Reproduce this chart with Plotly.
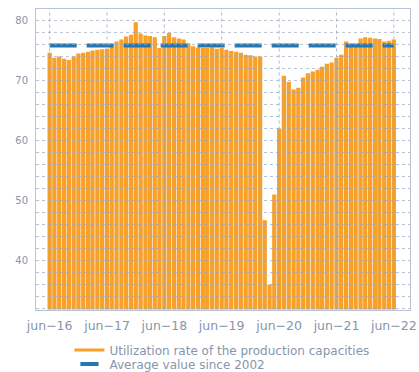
import plotly.graph_objects as go
import pandas as pd

# Monthly capacity utilization rate (%), June 2016 - June 2022
months = pd.date_range("2016-06-01", "2022-06-01", freq="MS")
utilization = [
    74.6, 73.8, 74.0, 73.6, 73.4, 74.0, 74.5, 74.6, 74.8, 75.0, 75.1, 75.2,  # jun-16 .. may-17
    75.3, 75.6, 76.5, 76.8, 77.3, 77.6, 79.7, 77.8, 77.5, 77.4, 77.2, 75.4,  # jun-17 .. may-18
    77.4, 77.9, 77.2, 77.0, 76.8, 76.2, 75.7, 75.5, 75.4, 75.4, 75.5, 75.3,  # jun-18 .. may-19
    75.4, 75.1, 74.9, 74.8, 74.6, 74.3, 74.2, 74.0, 74.0, 46.7, 36.0, 51.0,  # jun-19 .. may-20
    62.0, 70.8, 69.8, 68.5, 68.8, 70.5, 71.2, 71.5, 71.8, 72.3, 72.8, 73.0,  # jun-20 .. may-21
    73.8, 74.3, 76.5, 75.8, 75.8, 77.0, 77.2, 77.1, 77.0, 76.9, 76.5, 76.6,  # jun-21 .. may-22
    76.8,                                                                    # jun-22
]
average_since_2002 = 75.8
average_line = [average_since_2002] * len(months)

tick_dates = pd.date_range("2016-06-01", "2022-06-01", freq="12MS")
tick_labels = ["jun\u221216", "jun\u221217", "jun\u221218", "jun\u221219",
               "jun\u221220", "jun\u221221", "jun\u221222"]
y_ticks = [40, 50, 60, 70, 80]

ORANGE = "#F7A02A"
BLUE = "#1F78B8"
TEXT = "#8795AE"
GRID = "#9AA8C0"
FONT = "DejaVu Sans, Verdana, sans-serif"

W, H = 419, 372
M_L, M_R, M_T, M_B = 36, 3, 9, 60

fig = go.Figure()

fig.add_trace(go.Bar(
    x=months, y=utilization, marker=dict(color=ORANGE, line=dict(width=0)),
    showlegend=False, legendgroup="util",
))
fig.add_trace(go.Scatter(
    x=months, y=average_line, mode="lines",
    line=dict(color=BLUE, width=4, dash="27px,10px"),
    showlegend=False, legendgroup="avg",
))
# legend entries: a long orange stroke and a short blue dash
fig.add_trace(go.Scatter(
    x=[None], y=[None], mode="lines", line=dict(color=ORANGE, width=3),
    name="Utilization rate of the production capacities", legendgroup="util",
    legend="legend",
))
fig.add_trace(go.Scatter(
    x=[None], y=[None], mode="markers",
    marker=dict(symbol="line-ew-open", size=13, color=BLUE, line=dict(color=BLUE, width=4)),
    name="Average value since 2002", legendgroup="avg",
    legend="legend2",
))

y_lo, y_hi = 31.85, 81.9
x_lo, x_hi = "2016-03-06", "2022-09-12"

# dotted grid drawn on top of the bars
shapes = []
for v in range(32, 82, 2):
    shapes.append(dict(type="line", xref="paper", x0=0, x1=1, yref="y", y0=v, y1=v,
                       line=dict(color=GRID, width=1, dash="dot"), layer="above", opacity=0.7))
for d in tick_dates:
    shapes.append(dict(type="line", yref="y", y0=y_lo, y1=y_hi, xref="x", x0=d, x1=d,
                       line=dict(color=GRID, width=1, dash="dot"), layer="above", opacity=0.8))

plot_w = W - M_L - M_R


def legend_at(px_x, px_y):
    return dict(
        orientation="v", xanchor="left", yanchor="middle",
        xref="paper", yref="container",
        x=(px_x - M_L) / plot_w, y=1 - px_y / H,
        font=dict(family=FONT, size=12, color=TEXT), itemwidth=30,
        bgcolor="rgba(0,0,0,0)",
    )


fig.update_layout(
    width=W, height=H,
    margin=dict(l=M_L, r=M_R, t=M_T, b=M_B),
    paper_bgcolor="white", plot_bgcolor="white",
    bargap=0.03,
    shapes=shapes,
    font=dict(family=FONT, color=TEXT, size=11),
    legend=legend_at(70, 350),
    legend2=legend_at(70, 364),
    xaxis=dict(
        range=[x_lo, x_hi], tickmode="array", tickvals=tick_dates, ticktext=tick_labels,
        showgrid=False, showline=True, linecolor="#B8C4D6", linewidth=1, mirror=True,
        ticks="", tickfont=dict(family=FONT, size=12.5, color=TEXT),
        ticklabelstandoff=4, ticklabeloverflow="allow",
    ),
    yaxis=dict(
        range=[y_lo, y_hi], tickmode="array", tickvals=y_ticks,
        showgrid=False, showline=True, linecolor="#B8C4D6", linewidth=1, mirror=True,
        ticks="", tickfont=dict(family=FONT, size=10, color=TEXT), ticklabelstandoff=5,
    ),
)

fig.write_html("out.html")
